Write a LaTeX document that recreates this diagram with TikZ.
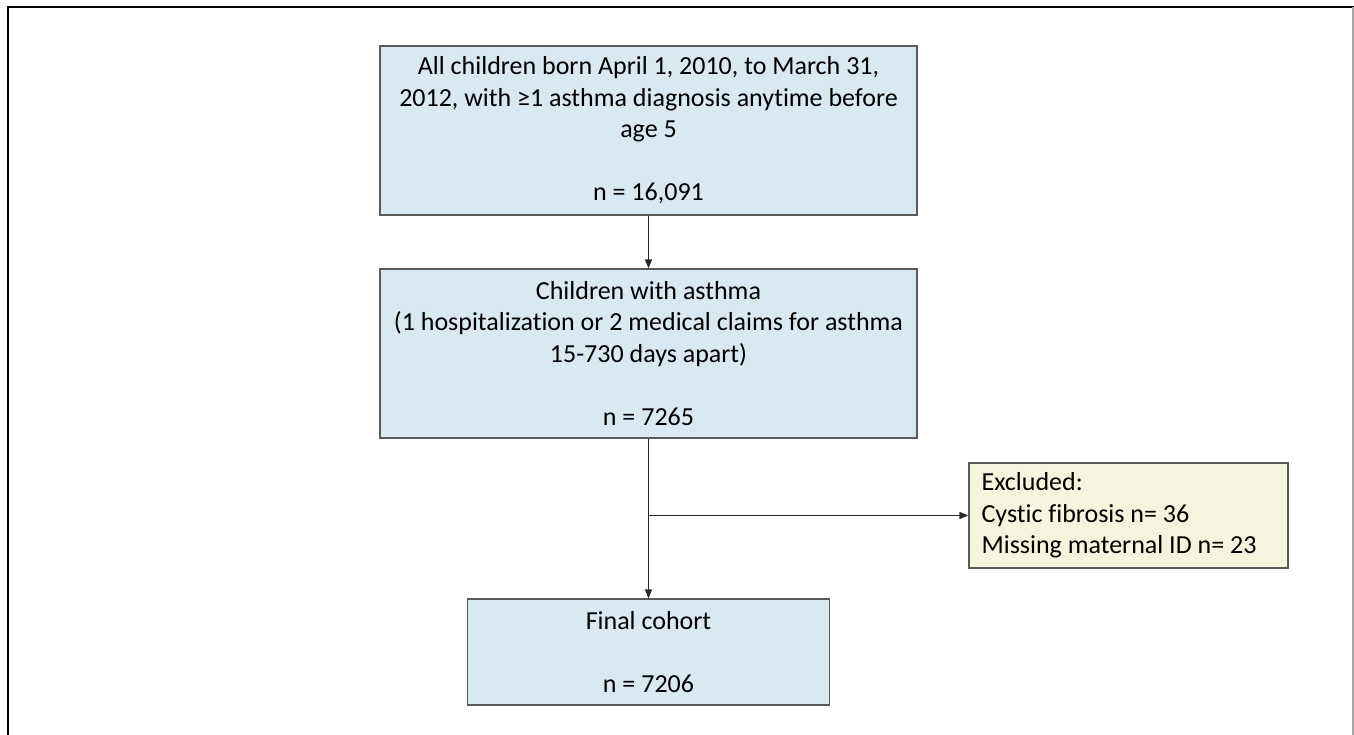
\documentclass[tikz,border=0pt]{standalone}
\usepackage{fontspec}
\setmainfont[Ligatures=NoCommon]{Carlito}
\usetikzlibrary{arrows.meta}
\definecolor{boxblue}{RGB}{218,232,241}
\definecolor{boxyellow}{RGB}{246,244,220}
\definecolor{edgegray}{RGB}{90,90,90}
\definecolor{arrowgray}{RGB}{40,40,40}
\begin{document}
\begin{tikzpicture}[x=1pt,y=-1pt,
  every node/.style={font=\fontsize{26}{31.5}\selectfont},
  bluebox/.style={draw=edgegray, line width=1.2pt, fill=boxblue, align=center, inner sep=0pt},
  yellowbox/.style={draw=edgegray, line width=1.2pt, fill=boxyellow, inner sep=0pt},
  lefttext/.style={align=left, anchor=west, inner sep=0pt},
  conn/.style={draw=arrowgray, line width=1.2pt, -{Triangle[length=9pt,width=7pt]}}
]
\useasboundingbox (0,0) rectangle (1354,735);
\draw[line width=2pt] (7.5,735) -- (7.5,7.5) -- (1354,7.5);
\draw[gray!70, line width=1.5pt] (1353,7.5) -- (1353,735);

\node[bluebox, minimum width=537pt, minimum height=169pt] (all) at (648.5,130.5)
  {All children born April 1, 2010, to March 31,\\2012, with ≥1 asthma diagnosis anytime before\\age 5\\[31.5pt]n = 16,091};
\node[bluebox, minimum width=537pt, minimum height=169pt] (asthma) at (648.5,353.5)
  {Children with asthma\\(1 hospitalization or 2 medical claims for asthma\\15-730 days apart)\\[31.5pt]n = 7265};
\node[bluebox, minimum width=362pt, minimum height=106pt] (final) at (648.5,652)
  {Final cohort\\[31.5pt]n = 7206};
\node[yellowbox, minimum width=319pt, minimum height=105pt] (excl) at (1128.5,515.5) {};
\node[lefttext] (excltext) at ([xshift=13pt]excl.west)
  {Excluded:\\Cystic fibrosis n= 36\\Missing maternal ID n= 23};

\coordinate (branch) at (asthma.south |- excl.west);
\draw[conn] (all) -- (asthma);
\draw[conn] (asthma) -- (final);
\draw[conn] (branch) -- (excl.west);
\end{tikzpicture}
\end{document}
